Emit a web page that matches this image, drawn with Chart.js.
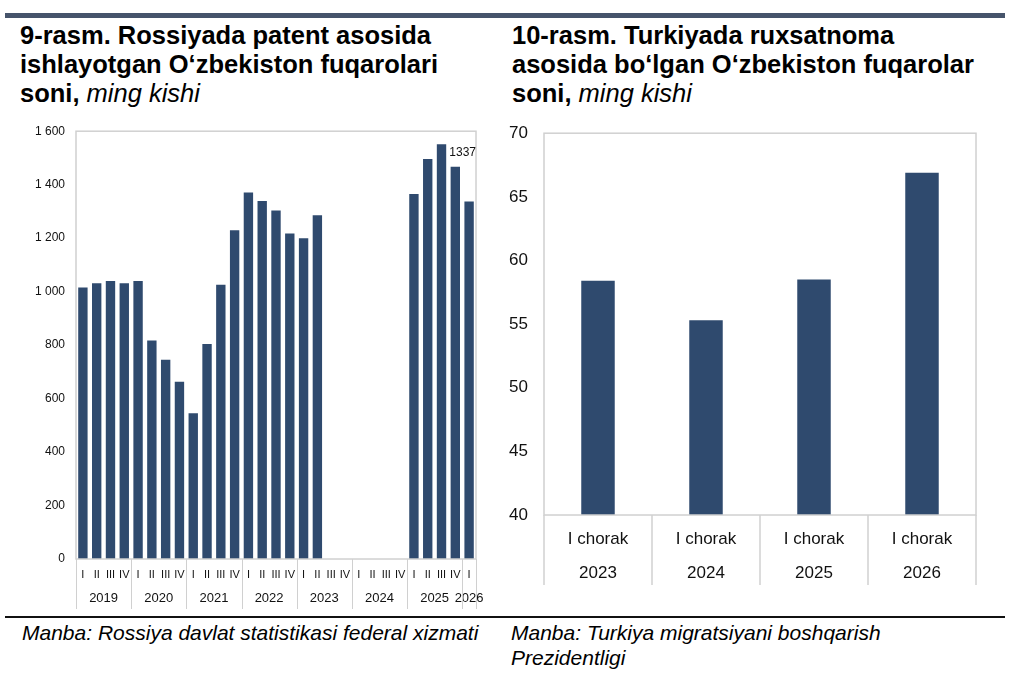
<!DOCTYPE html>
<html>
<head>
<meta charset="utf-8">
<script src="https://cdn.jsdelivr.net/npm/chart.js@4.4.1/dist/chart.umd.min.js"></script>
<style>
  html, body { margin: 0; padding: 0; background: #fff; }
  body { width: 1024px; height: 681px; position: relative; overflow: hidden; font-family: "Liberation Sans", Arial, sans-serif; color: #000; }
  .topbar { position: absolute; left: 5px; top: 13px; width: 1000px; height: 5px; background: #46546b; }
  .title { position: absolute; top: 21px; font-weight: bold; font-size: 25.5px; line-height: 29px; }
  .title i { font-weight: normal; }
  .box { position: absolute; }
  .rule { position: absolute; left: 5px; top: 616px; width: 1000px; height: 2px; background: #111; }
  .source { position: absolute; top: 620px; font-style: italic; font-size: 21px; line-height: 25px; }
</style>
</head>
<body>
<div class="topbar"></div>
<div class="title" style="left:20px;">9-rasm. Rossiyada patent asosida<br>ishlayotgan O‘zbekiston fuqarolari<br>soni, <i>ming kishi</i></div>
<div class="title" style="left:512px;">10-rasm. Turkiyada ruxsatnoma<br>asosida bo‘lgan O‘zbekiston fuqarolar<br>soni, <i>ming kishi</i></div>

<div class="box" style="left:0; top:113px; width:490px; height:502px;"><canvas id="russiaChart"></canvas></div>
<div class="box" style="left:505px; top:107px; width:519px; height:491px;"><canvas id="turkeyChart"></canvas></div>

<div class="rule"></div>
<div class="source" style="left:22px;">Manba: Rossiya davlat statistikasi federal xizmati</div>
<div class="source" style="left:511px;">Manba: Turkiya migratsiyani boshqarish<br>Prezidentligi</div>

<script>
// 9-rasm: Russia, patents (thousand people), quarterly
const quarterLabels = [
  "I", "II", "III", "IV", "I", "II", "III", "IV", "I", "II", "III", "IV",
  "I", "II", "III", "IV", "I", "II", "III", "IV", "I", "II", "III", "IV",
  "I", "II", "III", "IV", "I"
];
const yearLabels = ["2019", "2020", "2021", "2022", "2023", "2024", "2025", "2026"];
const quartersPerYear = [4, 4, 4, 4, 4, 4, 4, 1];
const patentValues = [
  1015, 1031, 1040, 1031,
  1040, 817, 745, 663,
  545, 804, 1026, 1230,
  1371, 1339, 1303, 1217,
  1200, 1286, null, null,
  null, null, null, null,
  1365, 1496, 1551, 1467,
  1337
];
const patentTicks = [0, 200, 400, 600, 800, 1000, 1200, 1400, 1600];

// 10-rasm: Turkey, residence permits (thousand people)
const turkeyLabels = [["I chorak", "2023"], ["I chorak", "2024"], ["I chorak", "2025"], ["I chorak", "2026"]];
const turkeyValues = [58.4, 55.3, 58.5, 66.9];
const turkeyTicks = [40, 45, 50, 55, 60, 65, 70];

const barColor = "#2f4a6e";
const lineGray = "#d0d0d0";
const font = "'Liberation Sans', Arial, sans-serif";

// draws the gray frame round the plot area
const frame = {
  id: "frame",
  afterDraw(chart) {
    const a = chart.chartArea, ctx = chart.ctx;
    ctx.save();
    ctx.strokeStyle = lineGray;
    ctx.lineWidth = 1.5;
    ctx.strokeRect(a.left, a.top, a.right - a.left, a.bottom - a.top);
    ctx.restore();
  }
};

// year groups under the quarter labels of the left chart
const yearGroups = {
  id: "yearGroups",
  afterDraw(chart) {
    const x = chart.scales.x, y = chart.scales.y, ctx = chart.ctx, a = chart.chartArea;
    const step = x.getPixelForValue(1) - x.getPixelForValue(0);
    ctx.save();
    ctx.strokeStyle = lineGray;
    ctx.lineWidth = 1;
    ctx.fillStyle = "#111";
    ctx.font = "13px " + font;
    ctx.textAlign = "center";
    ctx.textBaseline = "middle";
    let start = 0;
    const edges = [];
    quartersPerYear.forEach((n, i) => {
      const left = x.getPixelForValue(start) - step / 2;
      const right = x.getPixelForValue(start + n - 1) + step / 2;
      edges.push(left, right);
      ctx.fillText(yearLabels[i], (left + right) / 2, a.bottom + 39);
      start += n;
    });
    edges.forEach(px => {
      ctx.beginPath();
      ctx.moveTo(Math.round(px) + 0.5, a.bottom);
      ctx.lineTo(Math.round(px) + 0.5, a.bottom + 50);
      ctx.stroke();
    });
    // value label of the last quarter
    const last = patentValues.length - 1;
    ctx.font = "12px " + font;
    ctx.textAlign = "right";
    ctx.fillText(String(patentValues[last]), x.getPixelForValue(last) + step / 2, y.getPixelForValue(1520));
    ctx.restore();
  }
};

// separators between categories of the right chart
const catSeparators = {
  id: "catSeparators",
  afterDraw(chart) {
    const x = chart.scales.x, ctx = chart.ctx, a = chart.chartArea;
    const step = x.getPixelForValue(1) - x.getPixelForValue(0);
    ctx.save();
    ctx.strokeStyle = lineGray;
    ctx.lineWidth = 1.5;
    for (let i = 0; i <= turkeyLabels.length; i++) {
      const px = x.getPixelForValue(0) - step / 2 + i * step;
      ctx.beginPath();
      ctx.moveTo(px, a.bottom);
      ctx.lineTo(px, a.bottom + 70);
      ctx.stroke();
    }
    ctx.restore();
  }
};

new Chart(document.getElementById("russiaChart"), {
  type: "bar",
  data: {
    labels: quarterLabels,
    datasets: [{
      data: patentValues,
      backgroundColor: barColor,
      barPercentage: 0.68,
      categoryPercentage: 1.0
    }]
  },
  options: {
    responsive: true,
    maintainAspectRatio: false,
    animation: false,
    layout: { padding: { top: 0, right: 14, left: 0, bottom: 0 } },
    plugins: { legend: { display: false }, tooltip: { enabled: false } },
    scales: {
      x: {
        grid: { display: false, drawTicks: false },
        border: { display: false },
        ticks: { autoSkip: false, maxRotation: 0, color: "#111", padding: 9, font: { family: font, size: 11 } },
        afterFit(s) { s.height = 56; }
      },
      y: {
        min: 0,
        max: 1600,
        afterBuildTicks(s) { s.ticks = patentTicks.map(v => ({ value: v })); },
        grid: { display: false, drawTicks: false },
        border: { display: false },
        ticks: {
          color: "#111",
          padding: 11,
          font: { family: font, size: 12 },
          callback: v => String(v).replace(/\B(?=(\d{3})+(?!\d))/g, " ")
        },
        afterFit(s) { s.width = 76; }
      }
    }
  },
  plugins: [frame, yearGroups]
});

new Chart(document.getElementById("turkeyChart"), {
  type: "bar",
  data: {
    labels: turkeyLabels,
    datasets: [{
      data: turkeyValues,
      backgroundColor: barColor,
      barPercentage: 0.31,
      categoryPercentage: 1.0
    }]
  },
  options: {
    responsive: true,
    maintainAspectRatio: false,
    animation: false,
    layout: { padding: { top: 0, right: 48, left: 0, bottom: 0 } },
    plugins: { legend: { display: false }, tooltip: { enabled: false } },
    scales: {
      x: {
        grid: { display: false, drawTicks: false },
        border: { display: false },
        ticks: { autoSkip: false, maxRotation: 0, color: "#111", padding: 7, font: { family: font, size: 17, lineHeight: 2 } },
        afterFit(s) { s.height = 83; }
      },
      y: {
        min: 40,
        max: 70,
        afterBuildTicks(s) { s.ticks = turkeyTicks.map(v => ({ value: v })); },
        grid: { display: false, drawTicks: false },
        border: { display: false },
        ticks: { color: "#111", padding: 16, font: { family: font, size: 17 } },
        afterFit(s) { s.width = 39; }
      }
    }
  },
  plugins: [frame, catSeparators]
});
</script>
</body>
</html>
